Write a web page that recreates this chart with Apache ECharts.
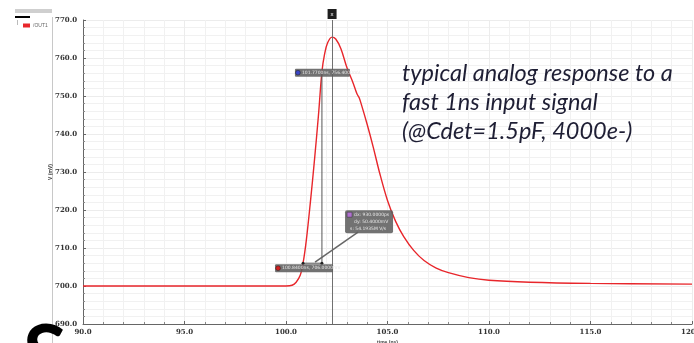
<!DOCTYPE html>
<html>
<head>
<meta charset="utf-8">
<script src="https://cdn.jsdelivr.net/npm/echarts@6/dist/echarts.min.js"></script>
<style>
  html, body { margin: 0; padding: 0; background: #fff; }
  #chart { width: 694px; height: 343px; }
</style>
</head>
<body>
<div id="chart"></div>
<script>
// Transient response of the analog output (time in ns, voltage in mV)
const timeNs = [90, 99.0, 100.0, 100.3, 100.5, 100.7, 100.84, 101.0, 101.2, 101.4, 101.6, 101.77, 101.9, 102.05, 102.27,
  102.45, 102.7, 103.0, 103.3, 103.5, 103.6, 103.7, 104.0, 104.3, 104.6, 105.0, 105.4, 105.8, 106.3, 106.8, 107.4,
  108.0, 109.0, 110.0, 112.0, 115.0, 120.0];
const voltMv = [700, 700, 700, 700.2, 701, 702.8, 706.0, 712, 722, 733, 745, 756.4, 761, 764, 765.5,
  765, 762.5, 757.5, 753.5, 750.5, 749.6, 748, 742.5, 736.5, 730, 722.5, 717, 713, 709.3, 706.7, 704.7,
  703.5, 702.2, 701.5, 701, 700.7, 700.5];

const seriesName = '/OUT1';
const xTicks = { min: 90, max: 120, interval: 5 };
const yTicks = { min: 690, max: 770, interval: 10 };

// Measurement cursor and the two delta markers (indices into the trace)
const cursorNs = 102.27;
const markerAIdx = 6;
const markerBIdx = 11;

const noteLines = ['typical analog response to a', 'fast 1ns input signal', '(@Cdet=1.5pF, 4000e-)'];

const chart = echarts.init(document.getElementById('chart'), null, { renderer: 'canvas' });

const tickFont = { fontSize: 7, fontWeight: 'bold', color: '#333', fontFamily: 'DejaVu Serif' };

chart.setOption({
  animation: false,
  backgroundColor: '#fff',
  grid: { left: 83, right: 2, top: 20, bottom: 19, outerBoundsMode: 'none', containLabel: false },
  legend: {
    left: 18, top: 18, itemWidth: 7, itemHeight: 4, itemGap: 2,
    textStyle: { fontSize: 5, color: '#666', padding: [0, 0, 0, -2] },
    data: [{ name: seriesName, icon: 'rect' }]
  },
  xAxis: {
    type: 'value', min: xTicks.min, max: xTicks.max, interval: xTicks.interval,
    name: 'time (ns)', nameLocation: 'middle', nameGap: 16, nameMoveOverlap: false,
    nameTextStyle: { fontSize: 5, fontWeight: 'bold', color: '#444' },
    axisLine: { show: true, lineStyle: { color: '#666', width: 1 } },
    axisTick: { show: true, inside: true, length: 3, lineStyle: { color: '#666' } },
    minorTick: { show: true, splitNumber: 5, length: 2, lineStyle: { color: '#888' } },
    axisLabel: Object.assign({ margin: 5, formatter: v => v.toFixed(1) }, tickFont),
    splitLine: { show: true, lineStyle: { color: '#ececec', width: 1 } },
    minorSplitLine: { show: true, lineStyle: { color: '#f1f1f1', width: 1 } }
  },
  yAxis: {
    type: 'value', min: yTicks.min, max: yTicks.max, interval: yTicks.interval,
    name: 'V (mV)', nameLocation: 'middle', nameGap: 30, nameRotate: 90, nameMoveOverlap: false,
    nameTextStyle: { fontSize: 5, fontWeight: 'bold', color: '#444' },
    axisLine: { show: true, lineStyle: { color: '#666', width: 1 } },
    axisTick: { show: true, inside: true, length: 3, lineStyle: { color: '#666' } },
    minorTick: { show: true, splitNumber: 5, length: 2, lineStyle: { color: '#888' } },
    axisLabel: Object.assign({ margin: 6, formatter: v => v.toFixed(1) }, tickFont),
    splitLine: { show: true, lineStyle: { color: '#ececec', width: 1 } },
    minorSplitLine: { show: true, lineStyle: { color: '#f1f1f1', width: 1 } }
  },
  series: [{
    name: seriesName,
    type: 'line',
    smooth: 0.35,
    showSymbol: false,
    color: '#e8262b',
    lineStyle: { width: 1.4, color: '#e8262b' },
    data: timeNs.map((t, i) => [t, voltMv[i]]),
    markLine: {
      silent: true, symbol: 'none',
      lineStyle: { color: '#707070', width: 1, type: 'solid' },
      label: {
        show: true, position: 'end', formatter: 'x', distance: 1,
        backgroundColor: '#1e1e1e', color: '#fff', fontSize: 6, padding: [2, 3]
      },
      data: [{ xAxis: cursorNs }]
    }
  }]
});

// Annotations placed from the data coordinates of the markers
const toPx = (t, v) => chart.convertToPixel({ gridIndex: 0 }, [t, v]);
const A = [timeNs[markerAIdx], voltMv[markerAIdx]];
const B = [timeNs[markerBIdx], voltMv[markerBIdx]];
const pA = toPx(A[0], A[1]);
const pB = toPx(B[0], B[1]);
const dxPs = (B[0] - A[0]) * 1000;
const dyMv = B[1] - A[1];
const slope = (dyMv * 1e-3) / (dxPs * 1e-12);

const boxFill = 'rgba(95,95,95,0.88)';
const boxText = { fill: '#e6e6e6', fontSize: 4.5, fontFamily: 'DejaVu Sans' };

function markerLabel(x, y, w, dotColor, text) {
  return [
    { type: 'rect', shape: { x: x, y: y, width: w, height: 8, r: 1 }, style: { fill: boxFill }, z: 20 },
    { type: 'circle', shape: { cx: x + 3, cy: y + 4, r: 2.4 }, style: { fill: dotColor, stroke: '#222', lineWidth: 0.5 }, z: 21 },
    { type: 'text', x: x + 7, y: y + 1.5, style: Object.assign({ text: text }, boxText), z: 21 }
  ];
}

const graphics = [
  // side panel
  { type: 'line', shape: { x1: 52.5, y1: 17, x2: 52.5, y2: 343 }, style: { stroke: '#c8c8c8', lineWidth: 1 } },
  { type: 'rect', shape: { x: 15, y: 9, width: 37, height: 4 }, style: { fill: '#cfcfcf' } },
  { type: 'rect', shape: { x: 15, y: 16, width: 15, height: 2 }, style: { fill: '#000' } },
  { type: 'line', shape: { x1: 17.5, y1: 20, x2: 17.5, y2: 25 }, style: { stroke: '#bbb', lineWidth: 1 } },
  // delta lines between the two markers
  { type: 'polyline', shape: { points: [pA, [pB[0], pA[1]], pB] }, style: { stroke: '#555', lineWidth: 1, fill: null }, z: 15 },
  { type: 'circle', shape: { cx: pA[0], cy: pA[1], r: 1.5 }, style: { fill: '#222' }, z: 16 },
  { type: 'circle', shape: { cx: pB[0], cy: pA[1], r: 1.5 }, style: { fill: '#222' }, z: 16 },
  // connector to delta box
  { type: 'line', shape: { x1: pA[0] + 12, y1: pA[1] - 1, x2: pA[0] + 55, y2: pA[1] - 31 }, style: { stroke: '#666', lineWidth: 1.5 }, z: 15 },
  { type: 'rect', shape: { x: pA[0] + 42, y: pA[1] - 53, width: 48, height: 23, r: 2 }, style: { fill: boxFill }, z: 20 },
  { type: 'rect', shape: { x: pA[0] + 44, y: pA[1] - 51, width: 5, height: 5 }, style: { fill: '#b070d0', stroke: '#333', lineWidth: 0.5 }, z: 21 },
  { type: 'text', x: pA[0] + 51, y: pA[1] - 51, style: Object.assign({ text: 'dx: ' + dxPs.toFixed(4) + 'ps' }, boxText), z: 21 },
  { type: 'text', x: pA[0] + 51, y: pA[1] - 44, style: Object.assign({ text: 'dy: ' + dyMv.toFixed(4) + 'mV' }, boxText), z: 21 },
  { type: 'text', x: pA[0] + 47, y: pA[1] - 37, style: Object.assign({ text: 's: ' + (slope / 1e6).toFixed(4) + 'M V/s' }, boxText), z: 21 },
  // large text note
  {
    type: 'text', left: 402, top: 59, z: 30,
    style: {
      text: noteLines.join('\n'), fill: '#1e1e34', font: 'italic 23.5px Lato', lineHeight: 29
    }
  },
  // fragment of a large letter at the lower left edge
  { type: 'text', left: 23, top: 316, style: { text: 'S', fill: '#000', font: 'bold 80px Lato' }, z: 30 }
];
graphics.push(...markerLabel(pA[0] - 28, pA[1] + 1, 58, '#d02020', A[0].toFixed(4) + 'ns, ' + A[1].toFixed(4) + 'mV'));
graphics.push(...markerLabel(pB[0] - 27, pB[1] - 3, 55, '#3a46c8', B[0].toFixed(4) + 'ns, ' + B[1].toFixed(4) + 'mV'));

chart.setOption({ graphic: graphics });
</script>
</body>
</html>
